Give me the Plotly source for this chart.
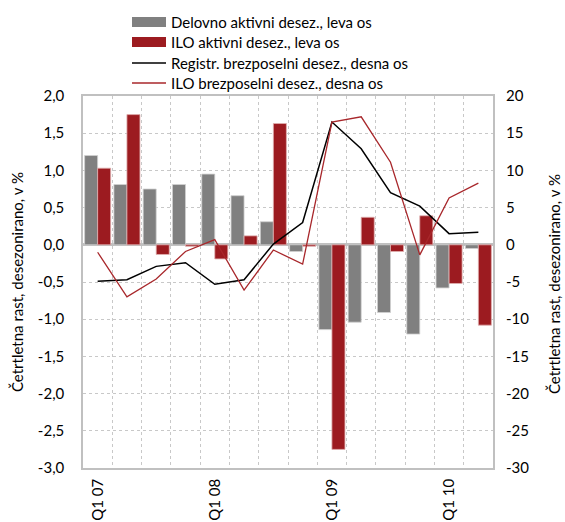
import plotly.graph_objects as go

quarters = ["Q1 07", "Q2 07", "Q3 07", "Q4 07",
            "Q1 08", "Q2 08", "Q3 08", "Q4 08",
            "Q1 09", "Q2 09", "Q3 09", "Q4 09",
            "Q1 10", "Q2 10"]
tick_labels = ["Q1 07", "", "", "", "Q1 08", "", "", "", "Q1 09", "", "", "", "Q1 10", ""]

left_tick_vals = [2.0, 1.5, 1.0, 0.5, 0.0, -0.5, -1.0, -1.5, -2.0, -2.5, -3.0]
left_tick_text = ["2,0", "1,5", "1,0", "0,5", "0,0", "-0,5", "-1,0", "-1,5", "-2,0", "-2,5", "-3,0"]
right_tick_vals = [20, 15, 10, 5, 0, -5, -10, -15, -20, -25, -30]
right_tick_text = ["20", "15", "10", "5", "0", "-5", "-10", "-15", "-20", "-25", "-30"]

delovno_aktivni = [1.20, 0.81, 0.75, 0.81, 0.95, 0.66, 0.31, -0.09,
                   -1.14, -1.04, -0.91, -1.20, -0.58, -0.05]
ilo_aktivni = [1.03, 1.75, -0.13, -0.02, -0.19, 0.12, 1.63, -0.02,
               -2.75, 0.37, -0.09, 0.39, -0.52, -1.08]
registr_brezposelni = [-4.9, -4.7, -2.9, -2.4, -5.3, -4.7, 0.1, 3.0,
                       16.5, 12.9, 7.0, 5.2, 1.5, 1.7]
ilo_brezposelni = [-1.0, -7.0, -4.6, -0.9, 0.7, -6.1, -0.7, -2.6,
                   16.5, 17.2, 11.1, -1.35, 6.3, 8.3]

names = ["Delovno aktivni desez., leva os", "ILO aktivni desez., leva os",
         "Registr. brezposelni desez., desna os", "ILO brezposelni desez., desna os"]

GRAY = "#808080"
RED = "#9c1b20"
REDLINE = "#a8272b"
FONT = "Lato"
FS = 15

fig = go.Figure()
fig.add_trace(go.Bar(x=quarters, y=delovno_aktivni, name=names[0], marker_color=GRAY,
                     marker_line=dict(color="#d0d0d0", width=0.8), showlegend=False))
fig.add_trace(go.Bar(x=quarters, y=ilo_aktivni, name=names[1], marker_color=RED,
                     marker_line=dict(color="#e0b0b0", width=0.8), showlegend=False))
fig.add_trace(go.Scatter(x=quarters, y=registr_brezposelni, name=names[2], yaxis="y2",
                         mode="lines", line=dict(color="black", width=1.5), showlegend=False))
fig.add_trace(go.Scatter(x=quarters, y=ilo_brezposelni, name=names[3], yaxis="y2",
                         mode="lines", line=dict(color=REDLINE, width=1.3), showlegend=False))

L, R, T, B = 83, 72, 96, 54
W, H = 565, 522
pw, ph = W - L - R, H - T - B

def px(x):
    return (x - L) / pw

def py(y):
    return (H - B - y) / ph

shapes = [
    dict(type="rect", xref="paper", yref="paper", x0=px(132), x1=px(166), y0=py(27), y1=py(17),
         fillcolor=GRAY, line=dict(width=0)),
    dict(type="rect", xref="paper", yref="paper", x0=px(132), x1=px(166), y0=py(47), y1=py(37),
         fillcolor=RED, line=dict(width=0)),
    dict(type="line", xref="paper", yref="paper", x0=px(132), x1=px(166), y0=py(63), y1=py(63),
         line=dict(color="black", width=1.5)),
    dict(type="line", xref="paper", yref="paper", x0=px(132), x1=px(166), y0=py(83), y1=py(83),
         line=dict(color=REDLINE, width=1.3)),
]
annotations = []
for i, yy in enumerate([22, 42, 63, 83]):
    annotations.append(dict(xref="paper", yref="paper", x=px(169), y=py(yy), text=names[i],
                            showarrow=False, xanchor="left", yanchor="middle",
                            font=dict(family=FONT, size=FS, color="black")))
title_txt = "Četrtletna rast, desezonirano, v %"
annotations.append(dict(xref="paper", yref="paper", x=px(17), y=py(282), text=title_txt,
                        textangle=-90, showarrow=False, xanchor="center", yanchor="middle",
                        font=dict(family=FONT, size=FS, color="black")))
annotations.append(dict(xref="paper", yref="paper", x=px(554), y=py(284), text=title_txt,
                        textangle=-90, showarrow=False, xanchor="center", yanchor="middle",
                        font=dict(family=FONT, size=FS, color="black")))

fig.update_layout(
    width=W, height=H,
    margin=dict(l=L, r=R, t=T, b=B, autoexpand=False),
    paper_bgcolor="white", plot_bgcolor="white",
    barmode="group", bargap=0.11, bargroupgap=0,
    font=dict(family=FONT, size=FS, color="black"),
    shapes=shapes, annotations=annotations,
    xaxis=dict(type="category", tickmode="array", tickvals=quarters, ticktext=tick_labels,
               tickson="boundaries", tickangle=-90, ticks="", showgrid=True,
               gridcolor="#c8c8c8", griddash="dot", gridwidth=1,
               showline=True, mirror=True, linecolor="#c0c0c0", linewidth=1.5,
               ticklabelstandoff=3,
               tickfont=dict(family=FONT, size=FS, color="black")),
    yaxis=dict(range=[-3, 2], tickmode="array", tickvals=left_tick_vals, ticktext=left_tick_text,
               showgrid=True, gridcolor="#c8c8c8", griddash="dot", gridwidth=1,
               zeroline=True, zerolinecolor="#c0c0c0", zerolinewidth=3,
               showline=True, mirror=True, linecolor="#c0c0c0", linewidth=1.5,
               ticks="", ticklen=0, ticklabelstandoff=14,
               tickfont=dict(family=FONT, size=FS, color="black")),
    yaxis2=dict(range=[-30, 20], tickmode="array", tickvals=right_tick_vals, ticktext=right_tick_text,
                overlaying="y", side="right",
                showgrid=False, zeroline=False, showline=False, ticks="",
                ticklabelstandoff=12,
                tickfont=dict(family=FONT, size=FS, color="black")),
)

fig.write_html("out.html", config={"displayModeBar": False},
               post_script="document.body.style.margin='0';document.body.style.overflow='hidden';")
